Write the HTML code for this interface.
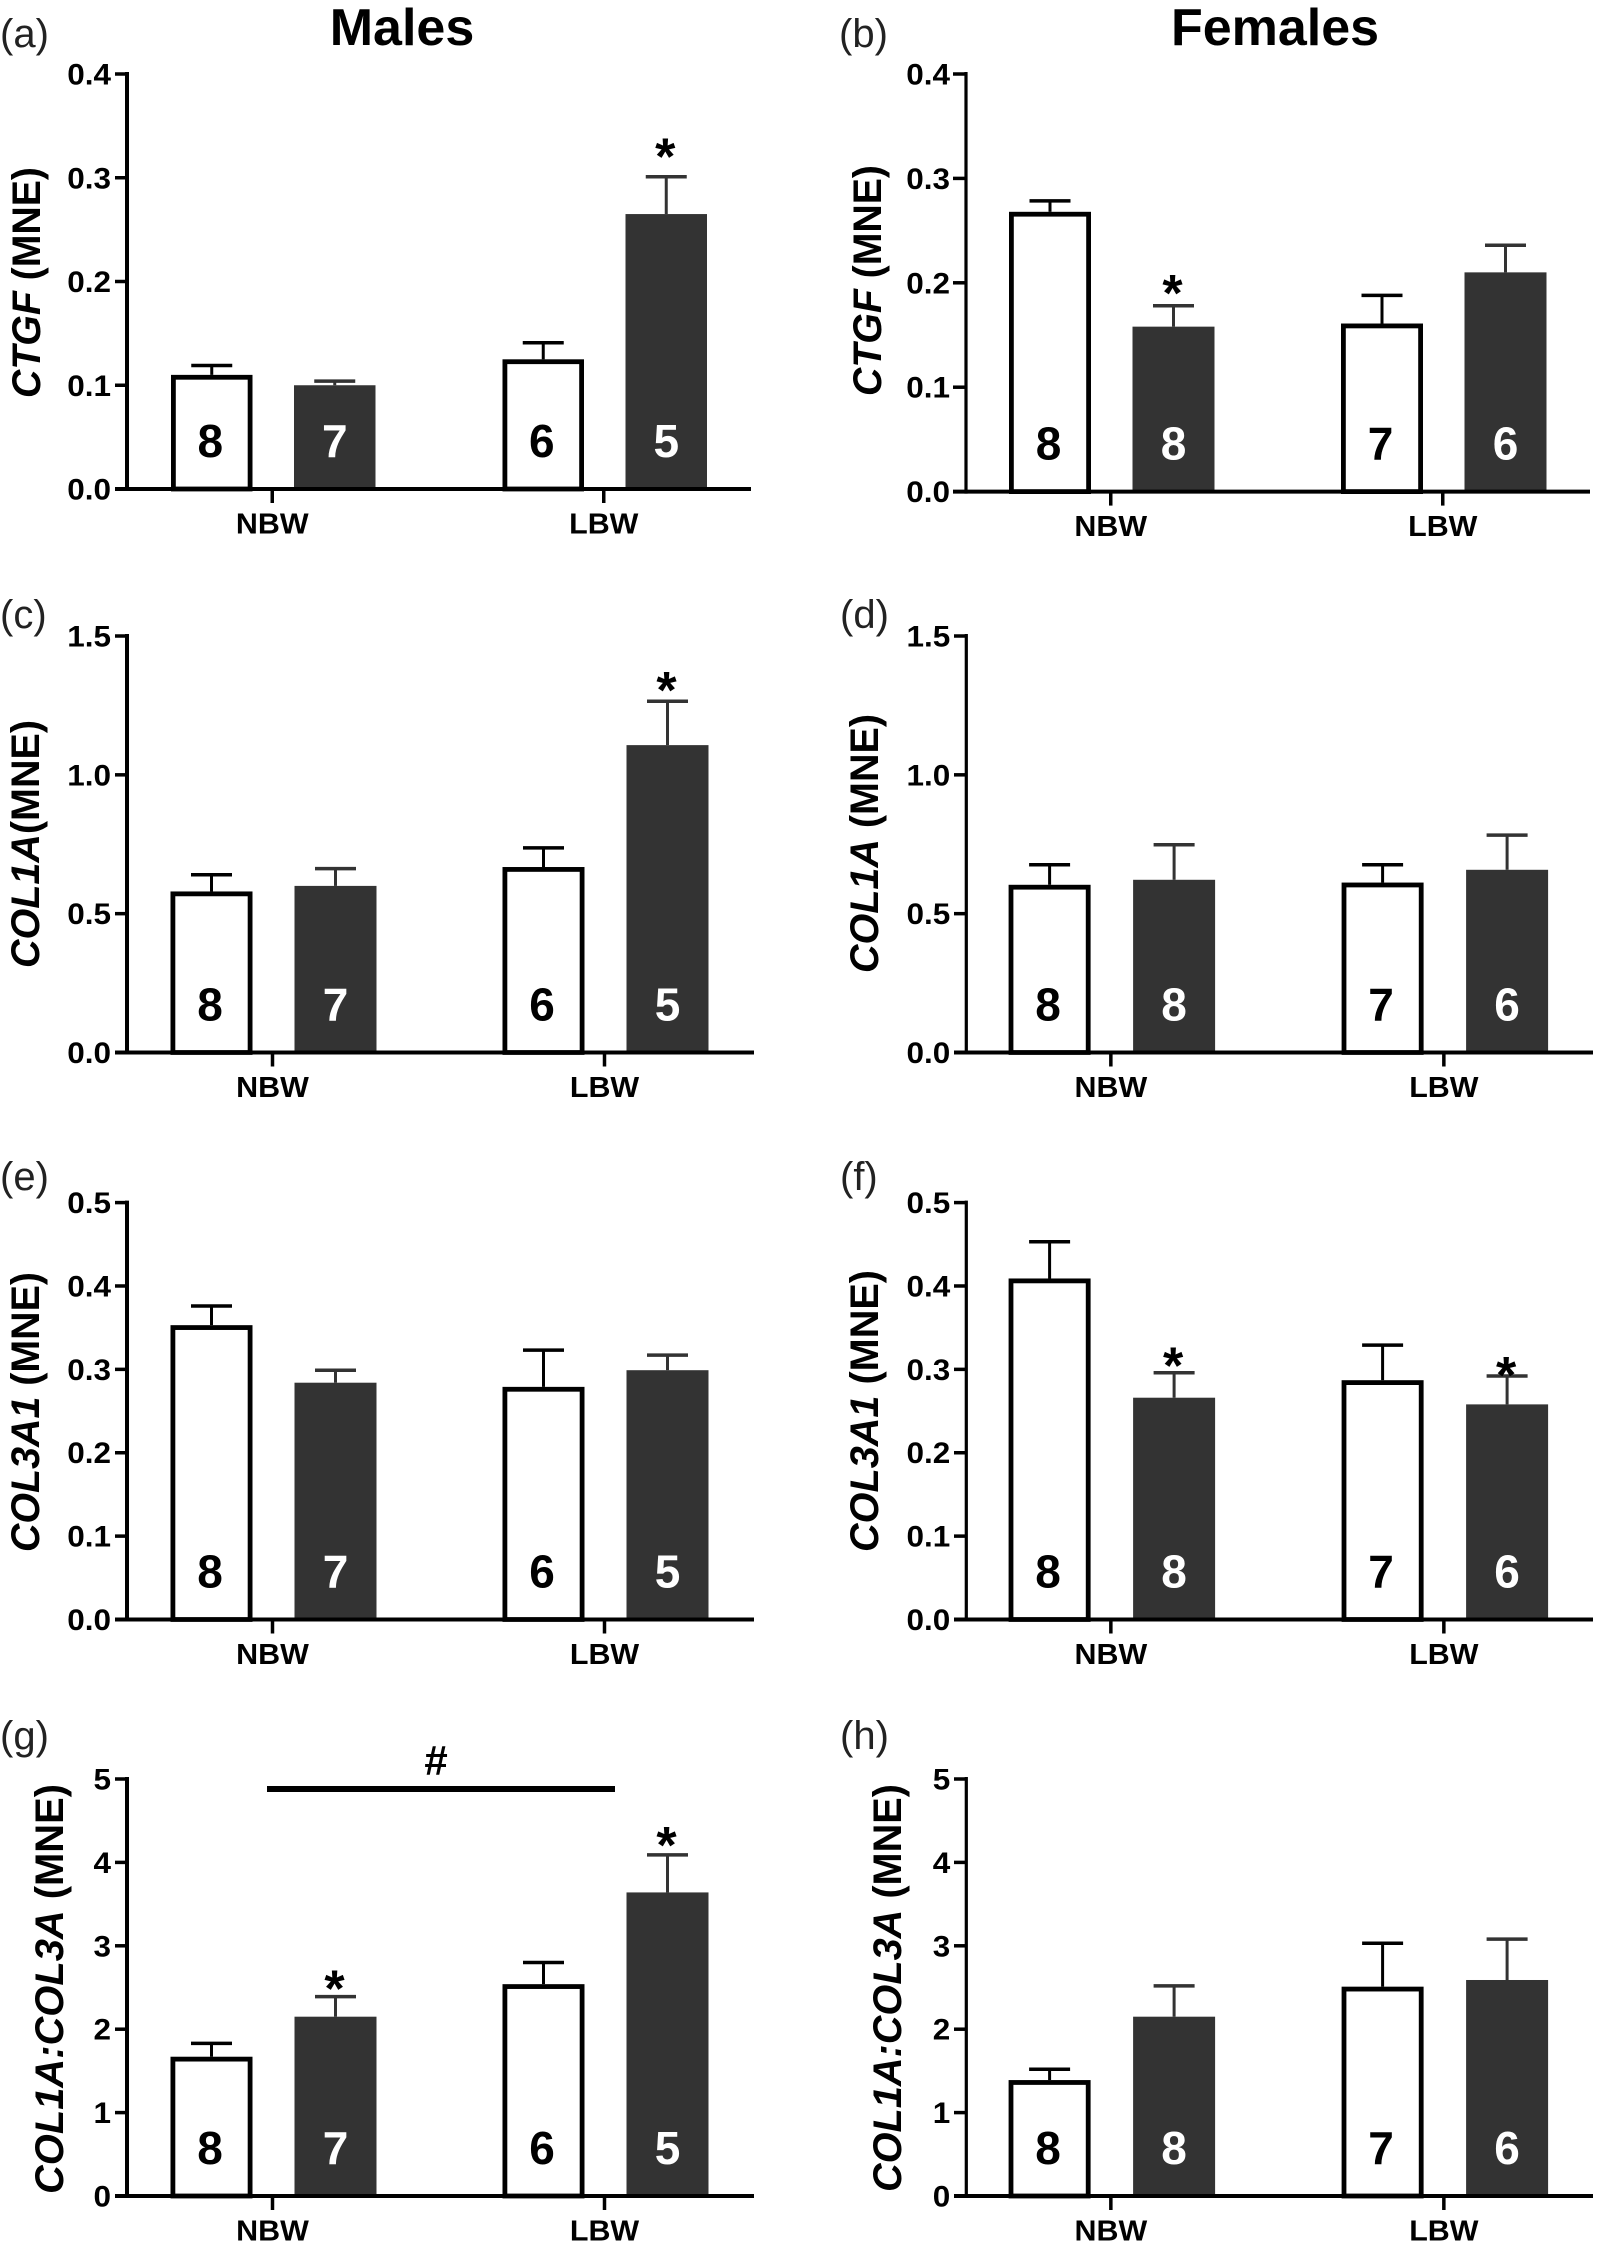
<!DOCTYPE html>
<html lang="en">
<head>
<meta charset="utf-8">
<title>CTGF and collagen expression in males and females</title>
<style>
html,body{margin:0;padding:0;background:#fff;width:1602px;height:2251px;overflow:hidden}
svg{position:absolute;left:0;top:0;display:block}
text{font-family:"Liberation Sans",Arial,sans-serif}
</style>
</head>
<body>
<svg id="figure" width="1602" height="2251" viewBox="0 0 1602 2251" xmlns="http://www.w3.org/2000/svg"></svg>
<script>
// ---- shared categories ----
const groupLabels = ['NBW', 'LBW'];
const maleCounts = [8, 7, 6, 5];
const femaleCounts = [8, 8, 7, 6];

// ---- tick values / labels ----
const ctgfTicks = [0, 0.1, 0.2, 0.3, 0.4];
const ctgfTickLabels = ['0.0', '0.1', '0.2', '0.3', '0.4'];
const col1aTicks = [0, 0.5, 1, 1.5];
const col1aTickLabels = ['0.0', '0.5', '1.0', '1.5'];
const col3aTicks = [0, 0.1, 0.2, 0.3, 0.4, 0.5];
const col3aTickLabels = ['0.0', '0.1', '0.2', '0.3', '0.4', '0.5'];
const ratioTicks = [0, 1, 2, 3, 4, 5];
const ratioTickLabels = ['0', '1', '2', '3', '4', '5'];

// ---- series values (mean, mean + SEM, height of significance star) ----
const ctgfMaleMeans = [0.11, 0.10, 0.125, 0.265];
const ctgfMaleUpper = [0.119, 0.104, 0.141, 0.301];
const ctgfMaleStars = [null, null, null, 0.331];

const ctgfFemaleMeans = [0.268, 0.158, 0.161, 0.21];
const ctgfFemaleUpper = [0.2785, 0.178, 0.188, 0.236];
const ctgfFemaleStars = [null, 0.201, null, null];

const col1aMaleMeans = [0.58, 0.60, 0.668, 1.107];
const col1aMaleUpper = [0.64, 0.662, 0.737, 1.265];
const col1aMaleStars = [null, null, null, 1.345];

const col1aFemaleMeans = [0.604, 0.622, 0.612, 0.658];
const col1aFemaleUpper = [0.676, 0.748, 0.676, 0.783];
const col1aFemaleStars = [null, null, null, null];

const col3aMaleMeans = [0.353, 0.284, 0.279, 0.299];
const col3aMaleUpper = [0.376, 0.299, 0.323, 0.317];
const col3aMaleStars = [null, null, null, null];

const col3aFemaleMeans = [0.409, 0.266, 0.287, 0.258];
const col3aFemaleUpper = [0.453, 0.296, 0.329, 0.292];
const col3aFemaleStars = [null, 0.3176, null, 0.3066];

const ratioMaleMeans = [1.67, 2.15, 2.54, 3.64];
const ratioMaleUpper = [1.83, 2.39, 2.80, 4.09];
const ratioMaleStars = [null, 2.62, null, 4.34];

const ratioFemaleMeans = [1.39, 2.15, 2.51, 2.59];
const ratioFemaleUpper = [1.52, 2.52, 3.03, 3.08];
const ratioFemaleStars = [null, null, null, null];

// ---- helpers ----
const NS = 'http://www.w3.org/2000/svg';
const root = document.getElementById('figure');
const DARK = '#333333';

function make(parent, tag, attrs) {
  const el = document.createElementNS(NS, tag);
  for (const k in attrs) el.setAttribute(k, attrs[k]);
  parent.appendChild(el);
  return el;
}

function makeText(parent, str, x, y, size, anchor, weight, fill, stretch) {
  const el = make(parent, 'text', {
    transform: 'translate(' + x + ',' + y + ') scale(' + (stretch || 1) + ',1)',
    'font-size': size, 'text-anchor': anchor, 'font-weight': weight, fill: fill
  });
  el.textContent = str;
  return el;
}

function yScale(p) {
  const max = p.ticks[p.ticks.length - 1];
  return function (v) { return p.y0 - (v / max) * (p.y0 - p.top); };
}

function barLeft(p, index) {
  const group = Math.floor(index / 2);
  const member = index % 2;
  return p.first + group * p.groupStep + member * p.innerStep;
}

function groupCenter(p, group) {
  return p.first + (p.innerStep + p.barW) / 2 + group * p.groupStep;
}

function drawPanel(p) {
  const y = yScale(p);
  const g = make(root, 'g', {});
  
  

  const panelLetter = makeText(g, '(' + p.id + ')', p.letterX, p.letterY, 40, 'start', 'normal', '#222', 1);
  
  

  // bars, error bars, counts, stars
  p.means.forEach(function (mean, i) {
    const left = barLeft(p, i);
    const cx = left + p.barW / 2;
    const dark = i % 2 === 1;
    const topY = y(mean);
    const upY = y(p.upper[i]);

    const stem = make(g, 'line', { x1: cx, x2: cx, y1: upY, y2: topY, stroke: dark ? DARK : '#000', 'stroke-width': 3 });
    
    

    const cap = make(g, 'line', { x1: cx - 20.5, x2: cx + 20.5, y1: upY, y2: upY, stroke: dark ? DARK : '#000', 'stroke-width': 3.5 });
    
    

    let bar;
    if (dark) {
      bar = make(g, 'rect', { x: left, y: topY, width: p.barW, height: p.y0 - topY, fill: DARK });
    } else {
      bar = make(g, 'rect', { x: left + 2.4, y: topY + 2.4, width: p.barW - 4.8, height: p.y0 - topY - 2.4, fill: '#fff', stroke: '#000', 'stroke-width': 4.8 });
    }
    
    

    const count = makeText(g, String(p.counts[i]), cx - (dark ? 0 : 1.5), p.y0 - 32, 46, 'middle', 'bold', dark ? '#fff' : '#000', 1);
    
    

    if (p.stars[i] !== null) {
      const star = makeText(g, '*', cx - 1, y(p.stars[i]) + 29, 52, 'middle', 'bold', '#000', 1);
      
      
    }
  });

  // y axis
  const yAxis = make(g, 'line', { x1: p.axisX, x2: p.axisX, y1: p.top - 2, y2: p.y0 + 2, stroke: '#000', 'stroke-width': p.axisW });
  
  

  p.ticks.forEach(function (t, i) {
    if (i > 0) {
      const tick = make(g, 'line', { x1: p.axisLeft, x2: p.axisX, y1: y(t), y2: y(t), stroke: '#000', 'stroke-width': 3.5 });
      
      
    }
    const lab = makeText(g, p.tickLabels[i], p.axisX - 16, y(t) + 10.5, 30, 'end', 'bold', '#000', 1.05);
    
    
  });

  // x axis
  const xAxis = make(g, 'line', { x1: p.axisLeft, x2: p.xEnd, y1: p.y0, y2: p.y0, stroke: '#000', 'stroke-width': 4 });
  
  

  groupLabels.forEach(function (name, i) {
    const cx = groupCenter(p, i);
    const tick = make(g, 'line', { x1: cx - 1, x2: cx - 1, y1: p.y0, y2: p.y0 + 14, stroke: '#000', 'stroke-width': 3.5 });
    
    
    const lab = makeText(g, name, cx - 1, p.y0 + 44.5, 29, 'middle', 'bold', '#000', 1.05);
    
    
  });

  // y title
  const title = make(g, 'text', {
    transform: 'translate(' + p.titleX + ',' + p.titleBottom + ') rotate(-90)',
    'font-size': 40, 'font-weight': 'bold', textLength: p.titleBottom - p.titleTop, lengthAdjust: 'spacingAndGlyphs'
  });
  
  
  const gene = make(title, 'tspan', { 'font-style': 'italic' });
  gene.textContent = p.gene;
  const unit = make(title, 'tspan', {});
  unit.textContent = p.unit;
}

// ---- layout ----
const leftA = { axisX: 127, axisW: 4, axisLeft: 115, xEnd: 751, first: 171, innerStep: 123, groupStep: 331.5, barW: 81.5, letterX: 0 };
const rightB = { axisX: 966, axisW: 3.2, axisLeft: 953, xEnd: 1590, first: 1009, innerStep: 123.5, groupStep: 332, barW: 82, letterX: 839 };
const leftCol = { axisX: 127, axisW: 4, axisLeft: 115, xEnd: 754, first: 170.5, innerStep: 124, groupStep: 332, barW: 82, letterX: 0 };
const rightCol = { axisX: 966.3, axisW: 3.2, axisLeft: 954, xEnd: 1593, first: 1008.6, innerStep: 124.5, groupStep: 333, barW: 82, letterX: 840 };

const panels = [
  Object.assign({}, leftA, { id: 'a', top: 74, y0: 489, letterY: 47, ticks: ctgfTicks, tickLabels: ctgfTickLabels, means: ctgfMaleMeans, upper: ctgfMaleUpper, stars: ctgfMaleStars, counts: maleCounts, gene: 'CTGF', unit: ' (MNE)', titleX: 40, titleTop: 167, titleBottom: 398 }),
  Object.assign({}, rightB, { id: 'b', top: 74, y0: 491.6, letterY: 47, ticks: ctgfTicks, tickLabels: ctgfTickLabels, means: ctgfFemaleMeans, upper: ctgfFemaleUpper, stars: ctgfFemaleStars, counts: femaleCounts, gene: 'CTGF', unit: ' (MNE)', titleX: 881, titleTop: 165, titleBottom: 396 }),
  Object.assign({}, leftCol, { id: 'c', top: 636, y0: 1052.5, letterY: 628, ticks: col1aTicks, tickLabels: col1aTickLabels, means: col1aMaleMeans, upper: col1aMaleUpper, stars: col1aMaleStars, counts: maleCounts, gene: 'COL1A', unit: '(MNE)', titleX: 39, titleTop: 720, titleBottom: 968 }),
  Object.assign({}, rightCol, { id: 'd', top: 636, y0: 1052.5, letterY: 628, ticks: col1aTicks, tickLabels: col1aTickLabels, means: col1aFemaleMeans, upper: col1aFemaleUpper, stars: col1aFemaleStars, counts: femaleCounts, gene: 'COL1A', unit: ' (MNE)', titleX: 878, titleTop: 714, titleBottom: 973 }),
  Object.assign({}, leftCol, { id: 'e', top: 1202.6, y0: 1619.5, letterY: 1190, ticks: col3aTicks, tickLabels: col3aTickLabels, means: col3aMaleMeans, upper: col3aMaleUpper, stars: col3aMaleStars, counts: maleCounts, gene: 'COL3A1', unit: ' (MNE)', titleX: 39, titleTop: 1272, titleBottom: 1552 }),
  Object.assign({}, rightCol, { id: 'f', top: 1202.6, y0: 1619.5, letterY: 1190, ticks: col3aTicks, tickLabels: col3aTickLabels, means: col3aFemaleMeans, upper: col3aFemaleUpper, stars: col3aFemaleStars, counts: femaleCounts, gene: 'COL3A1', unit: ' (MNE)', titleX: 878, titleTop: 1270, titleBottom: 1552 }),
  Object.assign({}, leftCol, { id: 'g', top: 1779, y0: 2196, letterY: 1749, ticks: ratioTicks, tickLabels: ratioTickLabels, means: ratioMaleMeans, upper: ratioMaleUpper, stars: ratioMaleStars, counts: maleCounts, gene: 'COL1A:COL3A', unit: ' (MNE)', titleX: 63, titleTop: 1784, titleBottom: 2194 }),
  Object.assign({}, rightCol, { id: 'h', top: 1779, y0: 2196, letterY: 1749, ticks: ratioTicks, tickLabels: ratioTickLabels, means: ratioFemaleMeans, upper: ratioFemaleUpper, stars: ratioFemaleStars, counts: femaleCounts, gene: 'COL1A:COL3A', unit: ' (MNE)', titleX: 901, titleTop: 1784, titleBottom: 2192 })
];

panels.forEach(drawPanel);

// ---- column titles ----
const malesTitle = makeText(root, 'Males', 402, 45, 52, 'middle', 'bold', '#000', 1);



const femalesTitle = makeText(root, 'Females', 1275, 45, 52, 'middle', 'bold', '#000', 1);



// ---- between-group bracket in panel g ----
const bracket = make(root, 'line', { x1: 267, x2: 615, y1: 1789, y2: 1789, stroke: '#000', 'stroke-width': 6 });



const hash = makeText(root, '#', 436, 1775, 42, 'middle', 'bold', '#000', 1);


</script>
</body>
</html>
